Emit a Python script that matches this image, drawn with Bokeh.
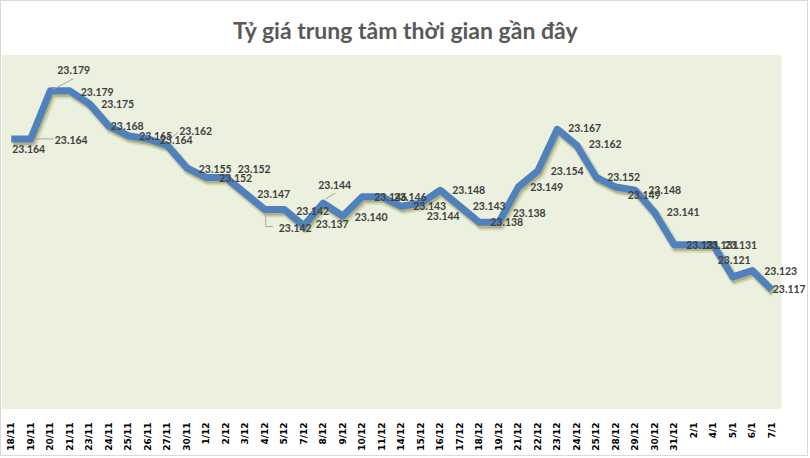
import math
from bokeh.plotting import figure
from bokeh.models import Range1d, FixedTicker, ColumnDataSource, LabelSet, BoxAnnotation
from bokeh.embed import file_html
from bokeh.resources import INLINE
from bokeh.core.properties import value

dates = ["18/11", "19/11", "20/11", "21/11", "23/11", "24/11", "25/11", "26/11", "27/11", "30/11",
         "1/12", "2/12", "3/12", "4/12", "5/12", "7/12", "8/12", "9/12", "10/12", "11/12",
         "14/12", "15/12", "16/12", "17/12", "18/12", "19/12", "21/12", "22/12", "23/12", "24/12",
         "25/12", "28/12", "29/12", "30/12", "31/12", "2/1", "4/1", "5/1", "6/1", "7/1"]

rates = [23.164, 23.164, 23.179, 23.179, 23.175, 23.168, 23.165, 23.164, 23.162, 23.155,
         23.152, 23.152, 23.147, 23.142, 23.142, 23.137, 23.144, 23.140, 23.146, 23.146,
         23.143, 23.144, 23.148, 23.143, 23.138, 23.138, 23.149, 23.154, 23.167, 23.162,
         23.152, 23.149, 23.148, 23.141, 23.131, 23.131, 23.131, 23.121, 23.123, 23.117]

grid_values = [23.08, 23.09, 23.10, 23.11, 23.12, 23.13, 23.14, 23.15, 23.16, 23.17, 23.18, 23.19]

title_text = "Tỷ giá trung tâm thời gian gần đây"

# data-label placement offsets in screen pixels (style); dy positive = down
label_dx = [1, 24, 7, 11, 12, 2, 11, 12, 12, 12, 13, 12, 12, 14, 12, 12, -5, 12, 12, 12,
            12, 6, 12, 13, 11, 14, 12, 13, 11, 12, 11, 12, 13, 12, 12, 12, 11, -15, 12, 1]
label_dy = [10, 1, -21, 1, 0, 0, 0, 1, -14, 1, 1, -8, 1, 18, 1, -2, -18, 1, 0, 0,
            0, 13, 0, 0, 0, -9, 0, 0, -1, -1, 0, 8, 0, -1, 0, 0, 0, -17, 0, -1]

# leader lines: (index, dx0, dy0, dx1, dy1) in pixels
leaders = [(1, 3, 0, 23, 0), (2, 2, -1, 23, -12), (8, 2, -6, 11, -13),
           (13, 1, 3, 1, 17), (13, 1, 17, 8, 17), (16, 2, -4, 12, -10)]

PX_X = 19.5          # pixels per category
PX_Y = 3200.0        # pixels per unit of rate
W, H = 808, 456

idx = list(range(len(dates)))
x_start = -0.5
x_end = len(dates) - 0.5

src = ColumnDataSource(dict(
    x=idx, rate=rates,
    label=[f"{v:.3f}" for v in rates],
    dx=label_dx, dy=[-d for d in label_dy],
    sx=[i + 2.0 / PX_X for i in idx],
    sx2=[i + 1.5 / PX_X for i in idx],
    shadow_rate=[v - 3.0 / PX_Y for v in rates],
))

p = figure(width=W, height=H,
           x_range=Range1d(x_start, x_start + W / PX_X),
           y_range=Range1d(grid_values[0], grid_values[-1]),
           output_backend="svg", toolbar_location=None,
           min_border_left=0, min_border_right=0, min_border_top=54, min_border_bottom=49)
p.styles = {"border": "1px solid #D9D9D9"}

p.background_fill_color = "white"
p.border_fill_color = "white"
p.outline_line_color = None

p.add_layout(BoxAnnotation(left=x_start, right=x_end, bottom=grid_values[0], top=grid_values[-1],
                           fill_color="#EBF1DE", fill_alpha=1.0, line_color=None, level="underlay"))

p.title.text = title_text
p.title.align = "center"
p.title.text_font = "Lato"
p.title.text_font_style = "bold"
p.title.text_font_size = "23px"
p.title.text_color = "#595959"
p.title.standoff = 24

p.xgrid.visible = False
p.ygrid.visible = False
p.yaxis.visible = False

# horizontal gridlines across the plot area only
p.segment(x0=[x_start] * len(grid_values), x1=[x_end] * len(grid_values),
          y0=grid_values, y1=grid_values, line_color="#D9D9D9", line_width=1, level="underlay")

ax = p.xaxis[0]
ax.ticker = FixedTicker(ticks=idx)
ax.major_label_overrides = {i: d for i, d in zip(idx, dates)}
ax.major_label_orientation = math.pi / 2
ax.major_label_text_font = "DejaVu Sans"
ax.major_label_text_font_style = "bold"
ax.major_label_text_font_size = "9px"
ax.major_label_text_color = "black"
ax.axis_line_color = None
ax.major_tick_line_color = None
ax.minor_tick_line_color = None
ax.major_label_standoff = 8

# shadow
p.line(x="sx", y="shadow_rate", source=src,
       line_color="#8A8440", line_alpha=0.22, line_width=10, line_join="round")
p.line(x="sx2", y="shadow_rate", source=src,
       line_color="#6B6630", line_alpha=0.35, line_width=6, line_join="round")
# main line
p.line(x="x", y="rate", source=src, line_color="#4F81BD", line_width=7, line_join="round")

# leader lines
lx0, ly0, lx1, ly1 = [], [], [], []
for i, a, b, c, d in leaders:
    lx0.append(i + a / PX_X)
    ly0.append(rates[i] - b / PX_Y)
    lx1.append(i + c / PX_X)
    ly1.append(rates[i] - d / PX_Y)
p.segment(x0=lx0, y0=ly0, x1=lx1, y1=ly1, line_color="#A6A6A6", line_width=1)

labels = LabelSet(x="x", y="rate", text="label", x_offset="dx", y_offset="dy", source=src,
                  text_align="left", text_baseline="middle",
                  text_font=value("Lato"), text_font_style="bold", text_font_size="10.5px",
                  text_color="#404040")
p.add_layout(labels)

open("out.html", "w").write(file_html(p, INLINE))
